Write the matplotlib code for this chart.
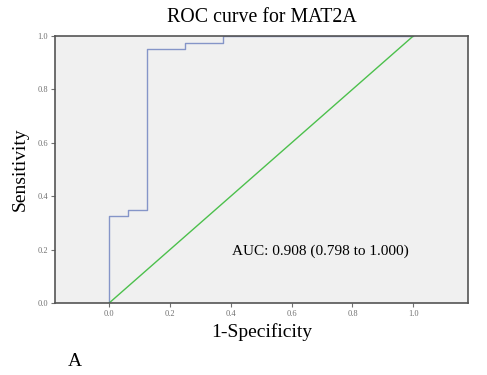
import matplotlib
matplotlib.use("Agg")
import matplotlib.pyplot as plt

plt.rcParams['font.family'] = ['Liberation Serif', 'DejaVu Serif']

fpr = [0.0, 0.0, 0.0625, 0.0625, 0.125, 0.125, 0.25, 0.25, 0.375, 0.375, 1.0]
tpr = [0.0, 0.325, 0.325, 0.35, 0.35, 0.95, 0.95, 0.975, 0.975, 1.0, 1.0]
ref = [0.0, 1.0]
ticks = [0.0, 0.2, 0.4, 0.6, 0.8, 1.0]
auc_text = "AUC: 0.908 (0.798 to 1.000)"

fig = plt.figure(figsize=(4.87, 3.75), dpi=100)
ax = fig.add_axes([0.113, 0.192, 0.848, 0.712])
ax.set_facecolor('#f0f0f0')
ax.plot(fpr, tpr, color='#8595c8', lw=1.0, zorder=2)
ax.plot(ref, ref, color='#4cc04c', lw=1.0, zorder=2)
ax.set_xlim(-0.178, 1.18)
ax.set_ylim(0, 1.0)
ax.set_xticks(ticks)
ax.set_yticks(ticks)
ax.set_xticklabels([f"{t:.1f}" for t in ticks])
ax.set_yticklabels([f"{t:.1f}" for t in ticks])
ax.tick_params(labelsize=6, colors='#707070', length=3, width=0.8, pad=2)
for s in ax.spines.values():
    s.set_color('#555555')
    s.set_linewidth(1.2)
    s.set_zorder(4)
ax.set_title("ROC curve for MAT2A", fontsize=14.3, pad=10)
ax.set_xlabel("1-Specificity", fontsize=14, labelpad=4)
ax.set_ylabel("Sensitivity", fontsize=14, labelpad=6)
ax.text(0.405, 0.18, auc_text, fontsize=11, transform=ax.transData)
fig.text(0.14, 0.025, "A", fontsize=14)
fig.savefig("out.png", dpi=100, facecolor='white')
